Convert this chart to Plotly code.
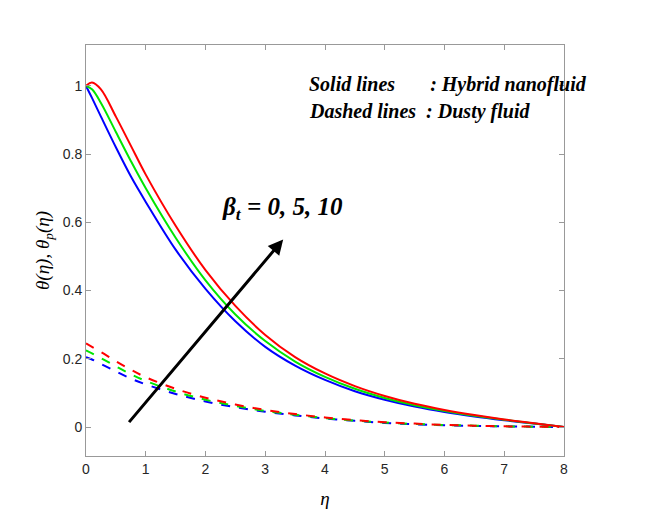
import plotly.graph_objects as go

# eta grid and values
eta = [0, 0.1, 0.25, 0.5, 0.75, 1, 1.5, 2, 2.5, 3, 3.5, 4, 4.5, 5, 5.5, 6, 6.5, 7, 7.5, 8]
theta = {
    0: [1.0, 0.965, 0.91, 0.82, 0.735, 0.66, 0.52, 0.405, 0.31, 0.235, 0.18, 0.138, 0.105, 0.08, 0.06, 0.044, 0.031, 0.02, 0.01, 0.0],
    5: [1.0, 0.99, 0.95, 0.865, 0.78, 0.70, 0.555, 0.43, 0.33, 0.252, 0.192, 0.147, 0.112, 0.085, 0.064, 0.047, 0.033, 0.021, 0.01, 0.0],
    10: [1.0, 1.01, 0.99, 0.91, 0.825, 0.74, 0.59, 0.46, 0.355, 0.27, 0.205, 0.157, 0.12, 0.091, 0.068, 0.05, 0.035, 0.022, 0.011, 0.0],
}
theta_p = {
    0: [0.205, 0.198, 0.185, 0.163, 0.142, 0.125, 0.097, 0.075, 0.058, 0.045, 0.034, 0.025, 0.018, 0.012, 0.008, 0.005, 0.003, 0.002, 0.001, 0.0],
    5: [0.225, 0.216, 0.202, 0.178, 0.155, 0.135, 0.104, 0.08, 0.062, 0.047, 0.036, 0.026, 0.019, 0.013, 0.009, 0.006, 0.004, 0.002, 0.001, 0.0],
    10: [0.245, 0.235, 0.22, 0.193, 0.168, 0.146, 0.112, 0.086, 0.066, 0.05, 0.038, 0.028, 0.02, 0.014, 0.01, 0.006, 0.004, 0.002, 0.001, 0.0],
}
colors = {0: "#0000ff", 5: "#00e600", 10: "#ff0000"}

fig = go.Figure()
for bt in [0, 5, 10]:
    fig.add_trace(go.Scatter(x=eta, y=theta[bt], mode="lines", line_shape="spline",
                             line=dict(color=colors[bt], width=2)))
    fig.add_trace(go.Scatter(x=eta, y=theta_p[bt], mode="lines", line_shape="spline",
                             line=dict(color=colors[bt], width=2, dash="dash")))

serif = dict(family="Liberation Serif", size=20, color="black")
fig.add_annotation(x=3.3, y=0.55, ax=0.7, ay=0.01, xref="x", yref="y", axref="x", ayref="y",
                   text="", showarrow=True, arrowhead=2, arrowsize=1, arrowwidth=3, arrowcolor="black")
fig.add_annotation(x=2.25, y=0.64, xanchor="left", showarrow=False,
                   text="<b><i>β<sub>t</sub> = 0, 5, 10</i></b>",
                   font=dict(family="Liberation Serif", size=25, color="black"))
fig.add_annotation(x=3.7, y=1.005, xanchor="left", showarrow=False,
                   text="<b><i>Solid lines       : Hybrid nanofluid</i></b>", font=serif)
fig.add_annotation(x=3.7, y=0.925, xanchor="left", showarrow=False,
                   text="<b><i>Dashed lines  : Dusty fluid</i></b>", font=serif)

axis = dict(showgrid=False, zeroline=False, showline=True, linecolor="#999999", mirror="ticks",
            ticks="inside", ticklen=5, tickcolor="#999999",
            tickfont=dict(family="Liberation Sans", size=14, color="#262626"))
fig.update_xaxes(range=[0, 8], dtick=1,
                 title=dict(text="<i>η</i>", font=dict(family="Liberation Serif", size=19, color="black")), **axis)
fig.update_yaxes(range=[-0.085, 1.12], tickvals=[0, 0.2, 0.4, 0.6, 0.8, 1], ticktext=["0", "0.2", "0.4", "0.6", "0.8", "1"],
                 title=dict(text="<i>θ(η), θ<sub>p</sub>(η)</i>", font=dict(family="Liberation Serif", size=19, color="black"),
                            standoff=8), **axis)
fig.update_layout(width=664, height=509, showlegend=False, plot_bgcolor="white", paper_bgcolor="white",
                  margin=dict(l=78, r=108, t=37, b=56))
fig.write_html("out.html")
